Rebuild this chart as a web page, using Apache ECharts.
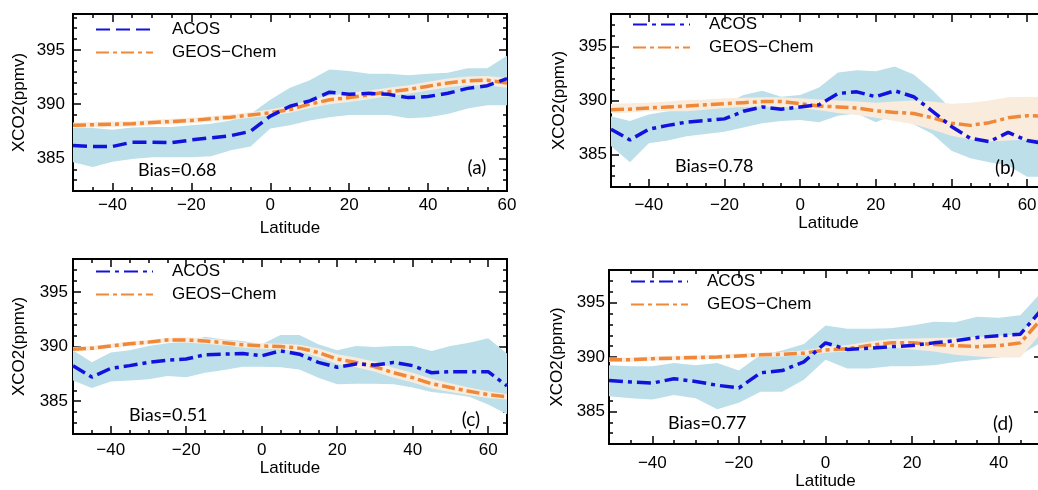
<!DOCTYPE html>
<html>
<head>
<meta charset="utf-8">
<script src="https://cdn.jsdelivr.net/npm/echarts@6/dist/echarts.min.js"></script>
<style>html,body{margin:0;padding:0;background:#fff;}#c{width:1038px;height:490px;}</style>
</head>
<body>
<div id="c"></div>
<script>
// ---------------- DATA ----------------
const latA = [-50,-45,-40,-35,-30,-25,-20,-15,-10,-5,0,5,10,15,20,25,30,35,40,45,50,55,60];
const acosA = [386.2,386.1,386.1,386.5,386.5,386.45,386.7,386.9,387.1,387.5,388.9,389.8,390.3,391.1,390.9,391.0,390.9,390.6,390.7,391.0,391.45,391.7,392.35];
const acosA_hi = [387.9,387.8,387.65,387.85,387.9,387.9,388.05,388.2,388.5,389.1,390.4,391.5,392.2,393.2,393.05,392.8,392.8,392.65,392.8,392.9,393.3,393.3,394.45];
const acosA_lo = [384.65,384.2,384.7,384.95,385.1,385.1,385.1,385.2,385.75,386.1,387.75,388.05,388.5,388.8,389.0,389.0,389.0,388.7,388.8,389.1,389.6,389.9,389.9];
const geosA = [388.05,388.1,388.15,388.2,388.3,388.4,388.5,388.65,388.8,389.0,389.2,389.5,390.0,390.4,390.6,390.85,391.15,391.35,391.65,391.95,392.15,392.2,391.95];
const geosA_hi = [388.3,388.35,388.4,388.45,388.55,388.65,388.75,388.9,389.05,389.25,389.5,389.85,390.35,390.8,391.0,391.25,391.5,391.75,392.05,392.35,392.55,392.6,392.4];
const geosA_lo = [387.8,387.85,387.9,387.95,388.05,388.15,388.25,388.4,388.55,388.75,388.95,389.2,389.65,390.0,390.2,390.45,390.75,390.95,391.25,391.55,391.75,391.75,391.5];

const latB = [-50,-45,-40,-35,-30,-25,-20,-15,-10,-5,0,5,10,15,20,25,30,35,40,45,50,55,60,65];
const acosB = [387.35,386.35,387.35,387.7,388.0,388.15,388.3,389.0,389.4,389.2,389.4,389.6,390.65,390.8,390.35,390.9,390.35,389.0,387.6,386.5,386.2,387.05,386.3,386.0];
const acosB_hi = [388.55,388.1,388.7,389.0,389.15,389.4,389.6,390.5,390.9,390.35,390.5,391.2,392.6,392.8,392.7,393.15,392.4,390.95,389.2,389.0,389.3,390.3,389.8,389.6];
const acosB_lo = [385.8,384.3,386.05,386.3,386.7,386.9,387.1,387.5,387.9,388.1,388.2,388.0,388.6,388.8,388.0,388.7,387.8,386.9,385.35,384.65,384.3,384.0,382.95,382.95];
const geosB = [389.15,389.2,389.3,389.4,389.5,389.6,389.7,389.8,389.9,389.9,389.7,389.5,389.4,389.3,389.05,388.9,388.8,388.4,387.9,387.7,387.95,388.4,388.6,388.55];
const geosB_hi = [389.7,389.75,389.8,389.9,390.05,390.1,390.2,390.25,390.3,390.3,390.2,390.1,390.0,389.9,389.8,389.9,390.0,389.9,389.7,389.8,390.0,390.3,390.35,390.3];
const geosB_lo = [388.8,388.9,389.0,389.0,389.0,389.15,389.3,389.4,389.45,389.4,389.3,389.1,388.85,388.65,388.4,388.1,387.8,387.3,386.75,386.4,386.2,386.3,386.4,386.4];

const latC = [-50,-45,-40,-35,-30,-25,-20,-15,-10,-5,0,5,10,15,20,25,30,35,40,45,50,55,60,65];
const acosC = [388.25,387.2,388.0,388.25,388.55,388.75,388.85,389.25,389.3,389.35,389.15,389.6,389.3,388.55,388.1,388.4,388.3,388.55,388.25,387.6,387.7,387.7,387.7,386.4];
const acosC_hi = [389.65,388.55,389.45,389.65,390.05,390.3,390.45,390.9,390.65,390.5,390.2,391.05,391.05,390.2,389.65,390.05,389.95,390.05,390.05,389.6,390.05,390.35,390.75,389.35];
const acosC_lo = [386.9,386.2,386.8,386.9,387.0,387.3,387.2,387.6,387.85,388.15,388.15,388.1,387.9,387.15,386.55,386.6,386.6,386.55,386.25,385.85,385.65,385.4,384.7,383.8];
const geosC = [389.75,389.85,390.05,390.25,390.4,390.6,390.6,390.5,390.35,390.15,390.05,390.0,389.85,389.45,388.85,388.55,388.15,387.6,387.15,386.6,386.25,385.9,385.6,385.4];
const geosC_hi = [389.95,390.05,390.25,390.45,390.6,390.8,390.85,390.75,390.6,390.4,390.3,390.25,390.15,389.85,389.3,389.0,388.6,388.05,387.6,387.05,386.65,386.25,385.9,385.65];
const geosC_lo = [389.55,389.65,389.85,390.05,390.2,390.4,390.35,390.25,390.1,389.9,389.8,389.75,389.55,389.05,388.4,388.1,387.7,387.15,386.7,386.15,385.85,385.55,385.3,385.15];

const latD = [-50,-45,-40,-35,-30,-25,-20,-15,-10,-5,0,5,10,15,20,25,30,35,40,45,50];
const acosD = [387.85,387.7,387.6,388.0,387.75,387.4,387.15,388.55,388.75,389.55,391.3,390.7,390.8,390.95,391.05,391.3,391.5,391.8,391.95,392.1,394.4];
const acosD_hi = [389.25,389.15,389.15,389.45,389.25,389.45,388.75,390.2,390.6,391.2,392.9,392.6,392.6,392.65,392.9,393.25,393.2,393.7,393.6,393.85,396.0];
const acosD_lo = [386.4,386.2,386.1,386.5,386.2,385.2,385.8,386.8,386.8,387.9,389.75,388.95,388.95,389.15,389.15,389.25,389.55,389.75,389.95,390.2,391.4];
const geosD = [389.75,389.75,389.85,389.9,389.95,390.0,390.1,390.2,390.25,390.35,390.65,390.75,391.05,391.3,391.3,391.15,391.05,390.95,391.05,391.3,393.55];
const geosD_hi = [389.95,389.95,390.05,390.1,390.15,390.2,390.3,390.4,390.45,390.6,390.95,391.1,391.4,391.65,391.7,391.75,391.8,391.85,391.95,392.1,394.5];
const geosD_lo = [389.55,389.55,389.65,389.7,389.75,389.8,389.9,390.0,390.05,390.15,390.4,390.5,390.75,390.9,390.7,390.5,390.2,390.05,389.95,389.95,392.3];

const biasText = ['Bias=0.68','Bias=0.78','Bias=0.51','Bias=0.77'];
const panelTags = ['(a)','(b)','(c)','(d)'];
const seriesNames = ['ACOS','GEOS−Chem'];
const xMajorTicks = [-40,-20,0,20,40,60];
const xMinorTicks = [-50,-45,-35,-30,-25,-15,-10,-5,5,10,15,25,30,35,45,50,55,65];
const yMajorTicks = [385,390,395];
const yMinorTicks = [382,383,384,386,387,388,389,391,392,393,394,396,397,398];
const xTitle = 'Latitude';
const yTitle = 'XCO2(ppmv)';

// ---------------- LAYOUT / STYLE ----------------
const FONT = 'Liberation Sans';
const NOTE_FONT = 'Lato';
const BLUE = '#1212dc', ORANGE = '#f0883a', BAND_BLUE = '#bcdfea', BAND_BEIGE = '#f9ecdd';
const panels = [
  {lat: latA, acos: acosA, acosHi: acosA_hi, acosLo: acosA_lo, geos: geosA, geosHi: geosA_hi, geosLo: geosA_lo,
   grid: {left: 73, top: 14, width: 434, height: 177}, xMin: -50, xMax: 60, yMin: 382, yMax: 398.3,
   acosDash: [14, 6], xLabelMargin: 6, xNameGap: 29, yLabelMargin: 8, yNameGap: 45,
   legendLeft: 95, legendTop: 21, bias: [138, 172], tag: [477, 168]},
  {lat: latB, acos: acosB, acosHi: acosB_hi, acosLo: acosB_lo, geos: geosB, geosHi: geosB_hi, geosLo: geosB_lo,
   grid: {left: 611, top: 14, width: 435, height: 173}, xMin: -50, xMax: 65, yMin: 382, yMax: 398,
   acosDash: [14, 5, 4, 5], xLabelMargin: 10, xNameGap: 28, yLabelMargin: 4, yNameGap: 43,
   legendLeft: 632, legendTop: 16, bias: [675, 168], tag: [1005, 168]},
  {lat: latC, acos: acosC, acosHi: acosC_hi, acosLo: acosC_lo, geos: geosC, geosHi: geosC_hi, geosLo: geosC_lo,
   grid: {left: 73, top: 259, width: 434, height: 175}, xMin: -50, xMax: 65, yMin: 382, yMax: 398,
   acosDash: [14, 5, 4, 5], xLabelMargin: 8, xNameGap: 26, yLabelMargin: 5, yNameGap: 45,
   legendLeft: 95, legendTop: 263, bias: [129, 417], tag: [471, 420]},
  {lat: latD, acos: acosD, acosHi: acosD_hi, acosLo: acosD_lo, geos: geosD, geosHi: geosD_hi, geosLo: geosD_lo,
   grid: {left: 609, top: 270, width: 433, height: 174}, xMin: -50, xMax: 50, yMin: 382, yMax: 398,
   acosDash: [14, 5, 4, 5], xLabelMargin: 11, xNameGap: 28, yLabelMargin: 4, yNameGap: 43,
   legendLeft: 630, legendTop: 273, bias: [668, 425], tag: [1003, 424]}
];

const fmtNum = v => (v < 0 ? '\u2212' + (-v) : '' + v);
const tickStyle = {color: '#000', width: 1.5};
const labelStyle = {color: '#000', fontSize: 17, fontFamily: FONT};

const grids = [], xAxes = [], yAxes = [], series = [], legends = [], graphics = [];

panels.forEach((p, gi) => {
  grids.push(Object.assign({show: true, borderColor: '#000', borderWidth: 2, backgroundColor: 'transparent',
    containLabel: false, outerBoundsMode: 'none'}, p.grid));
  const inRange = (arr, a, b) => arr.filter(v => v >= a && v <= b);
  const xMaj = inRange(xMajorTicks, p.xMin, p.xMax);
  const xMin = inRange(xMinorTicks, p.xMin, p.xMax);
  const yMaj = inRange(yMajorTicks, p.yMin, p.yMax);
  const yMin = inRange(yMinorTicks, p.yMin, p.yMax);
  const noLine = {show: false, onZero: false};
  const xc = {type: 'value', gridIndex: gi, min: p.xMin, max: p.xMax, splitLine: {show: false}, axisLine: noLine};
  const yc = {type: 'value', gridIndex: gi, min: p.yMin, max: p.yMax, splitLine: {show: false}, axisLine: noLine};
  xAxes.push(Object.assign({}, xc, {position: 'bottom',
    axisTick: {show: true, inside: true, length: 8, customValues: xMaj, lineStyle: tickStyle},
    axisLabel: Object.assign({show: true, customValues: xMaj, margin: p.xLabelMargin, formatter: fmtNum}, labelStyle),
    name: xTitle, nameLocation: 'middle', nameGap: p.xNameGap, nameTextStyle: labelStyle}));
  xAxes.push(Object.assign({}, xc, {position: 'bottom',
    axisTick: {show: true, inside: true, length: 4, customValues: xMin, lineStyle: tickStyle}, axisLabel: {show: false}}));
  xAxes.push(Object.assign({}, xc, {position: 'top',
    axisTick: {show: true, inside: true, length: 8, customValues: xMaj, lineStyle: tickStyle}, axisLabel: {show: false}}));
  xAxes.push(Object.assign({}, xc, {position: 'top',
    axisTick: {show: true, inside: true, length: 4, customValues: xMin, lineStyle: tickStyle}, axisLabel: {show: false}}));
  yAxes.push(Object.assign({}, yc, {position: 'left',
    axisTick: {show: true, inside: true, length: 8, customValues: yMaj, lineStyle: tickStyle},
    axisLabel: Object.assign({show: true, customValues: yMaj, margin: p.yLabelMargin}, labelStyle),
    name: yTitle, nameLocation: 'middle', nameGap: p.yNameGap, nameTextStyle: labelStyle}));
  yAxes.push(Object.assign({}, yc, {position: 'left',
    axisTick: {show: true, inside: true, length: 4, customValues: yMin, lineStyle: tickStyle}, axisLabel: {show: false}}));
  yAxes.push(Object.assign({}, yc, {position: 'right',
    axisTick: {show: true, inside: true, length: 8, customValues: yMaj, lineStyle: tickStyle}, axisLabel: {show: false}}));
  yAxes.push(Object.assign({}, yc, {position: 'right',
    axisTick: {show: true, inside: true, length: 4, customValues: yMin, lineStyle: tickStyle}, axisLabel: {show: false}}));

  const xi = gi * 4, yi = gi * 4;
  const band = (lo, hi, color, z) => ({
    type: 'custom', xAxisIndex: xi, yAxisIndex: yi, silent: true, clip: true, z: z,
    data: p.lat.map((x, i) => [x, lo[i], hi[i]]),
    encode: {x: 0, y: [1, 2]},
    renderItem: function (params, api) {
      if (params.dataIndexInside !== 0) return null;
      const n = params.dataInsideLength;
      const top = [], bot = [];
      for (let i = 0; i < n; i++) {
        top.push(api.coord([api.value(0, i), api.value(2, i)]));
        bot.push(api.coord([api.value(0, i), api.value(1, i)]));
      }
      return {type: 'polygon', shape: {points: top.concat(bot.reverse())}, style: {fill: color}};
    }
  });
  series.push(band(p.acosLo, p.acosHi, BAND_BLUE, 1));
  series.push(band(p.geosLo, p.geosHi, BAND_BEIGE, 2));
  const nA = seriesNames[0] + ' ' + panelTags[gi];
  const nG = seriesNames[1] + ' ' + panelTags[gi];
  series.push({type: 'line', name: nG, xAxisIndex: xi, yAxisIndex: yi, z: 3, symbol: 'none', showSymbol: false,
    data: p.lat.map((x, i) => [x, p.geos[i]]), clip: true,
    lineStyle: {color: ORANGE, width: 3.5, type: [13, 4, 4, 4]}, itemStyle: {color: ORANGE}});
  series.push({type: 'line', name: nA, xAxisIndex: xi, yAxisIndex: yi, z: 4, symbol: 'none', showSymbol: false,
    data: p.lat.map((x, i) => [x, p.acos[i]]), clip: true,
    lineStyle: {color: BLUE, width: 3.5, type: p.acosDash}, itemStyle: {color: BLUE}});
  legends.push({orient: 'vertical', left: p.legendLeft, top: p.legendTop, itemWidth: 57, itemHeight: 14, itemGap: 6,
    padding: 0, selectedMode: false, data: [nA, nG], itemStyle: {opacity: 0},
    formatter: n => n.replace(' ' + panelTags[gi], ''),
    textStyle: {color: '#000', fontSize: 17, fontFamily: FONT, padding: [0, 0, 0, 14]}});
  graphics.push({type: 'text', z: 100, left: p.bias[0], top: p.bias[1] - 11,
    style: {text: biasText[gi], fill: '#000', font: '18px ' + NOTE_FONT}});
  graphics.push({type: 'text', z: 100, x: p.tag[0], y: p.tag[1],
    style: {text: panelTags[gi], fill: '#000', font: '19px ' + NOTE_FONT, align: 'center', verticalAlign: 'middle'}});
});

const chart = echarts.init(document.getElementById('c'), null, {renderer: 'canvas'});
chart.setOption({
  backgroundColor: '#fff',
  animation: false,
  grid: grids, xAxis: xAxes, yAxis: yAxes, series: series, legend: legends, graphic: graphics
});
</script>
</body>
</html>
